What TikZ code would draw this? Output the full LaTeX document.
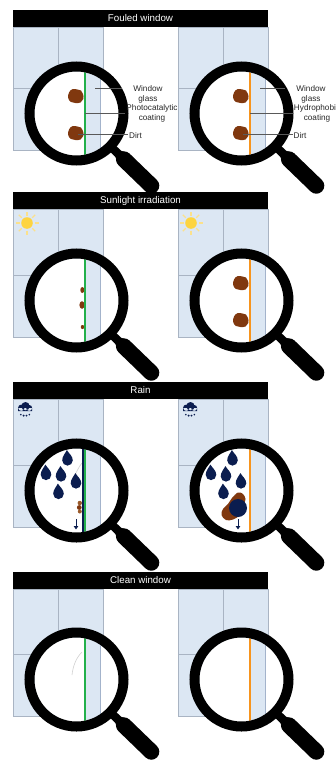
\documentclass[tikz,border=0pt]{standalone}
\usepackage{fontspec}
\setmainfont{Liberation Sans}
\usetikzlibrary{arrows.meta}

\definecolor{pane}{HTML}{DCE7F3}
\definecolor{paneline}{HTML}{A9B4C3}
\definecolor{glassline}{HTML}{A3B3CB}
\definecolor{coatgreen}{HTML}{22B04B}
\definecolor{coatorange}{HTML}{F7941D}
\definecolor{dirt}{HTML}{80380F}
\definecolor{dirtlight}{HTML}{9A5A2A}
\definecolor{navy}{HTML}{0B1D4F}
\definecolor{suncore}{HTML}{FDD43F}
\definecolor{sunray}{HTML}{FBE18C}

\tikzset{
  paneedge/.style={draw=paneline, line width=0.8pt},
  glassedge/.style={draw=glassline, line width=1pt},
  coatline/.style={line width=2.4pt},
  ring/.style={draw=black, line width=10pt},
  titlebar/.style={fill=black, text=white, minimum width=255pt, minimum height=17pt,
    inner sep=0pt, font=\fontsize{9.75}{11}\selectfont},
  lbl/.style={font=\fontsize{8.2}{10}\selectfont, align=center, inner sep=1pt, text=black!85},
  leader/.style={draw=black!65, line width=0.5pt},
  faint/.style={draw=black!18, line width=0.6pt},
  dirtblob/.pic={
    \fill[dirt] plot[smooth cycle, tension=0.7] coordinates
      {(7.5,-2) (7.8,3) (5,6.5) (0,7) (-4.5,6) (-7.3,2) (-6.5,-3.5) (-3,-6.8) (2,-6.5) (5.5,-5.5)};
  },
  smear/.pic={
    \fill[dirt] plot[smooth cycle, tension=0.6] coordinates
      {(0,-15.5) (5,-14) (7.5,-9) (6,-4) (3,6) (-5,11.5) (-12,12) (-16.5,7) (-15,1) (-10,-4) (-6,-10)};
  },
  raindrop/.pic={
    \fill[navy] (-0.6,-10) .. controls (1,-6.8) and (5.3,-4) .. (5.3,0.3)
      arc[start angle=0, end angle=180, radius=5.3]
      .. controls (-5.3,-4) and (-2,-6.8) .. (-0.6,-10) -- cycle;
  },
  sunicon/.pic={
    \foreach \a in {0,45,...,315} \draw[sunray, line width=1.2pt] (\a:7.5) -- (\a:11.5);
    \fill[suncore] (0,0) circle (5.8);
  },
  raincloud/.pic={
    \fill[navy] (-3.7,-3.2) circle (3.2) (0.5,-4.8) circle (4.2) (4.2,-3) circle (3)
      (-6.9,-3.2) rectangle (7.2,0);
    \fill[navy] (-4.2,3.6) circle (0.9) (-1.4,4.6) circle (1.1) (1.5,4.6) circle (1.1) (4.3,3.6) circle (0.9);
  },
  droparrow/.style={draw=navy, line width=1pt, -{Triangle[length=3.5pt,width=4.5pt]}}
}

% window with four panes; uses \WinL, \WinT, \WinB
\newcommand\panewindow{%
  \fill[pane] (\WinL,\WinT+17) rectangle (\WinL+90,\WinB);
  \draw[paneedge] (\WinL,\WinT+17) rectangle (\WinL+90,\WinB)
    (\WinL+45,\WinT+17) -- (\WinL+45,\WinB) (\WinL,\WinB-62) -- (\WinL+90,\WinB-62);
}

% magnifying glass over the pane edge: #1 name, #2 coating colour, #3 contents
\newcommand\lens[3]{%
  \coordinate (#1) at (\WinL+63.5,\WinB-36.5);
  \begin{scope}
    \clip (#1) circle (42);
    \fill[white] (#1) circle (42);
    \fill[pane] (\WinL+72,\WinB-90) rectangle (\WinL+87,\WinB+10);
    \draw[glassedge] (\WinL+87,\WinB-90) -- (\WinL+87,\WinB+10);
    #3
    \draw[coatline, draw=#2] (\WinL+72,\WinB-90) -- (\WinL+72,\WinB+10);
  \end{scope}
  \draw[ring] (#1) circle (47);
  \begin{scope}[shift={(#1)}, rotate=-44]
    \fill (44,-4.2) -- (58,-4.2) -- (66,-8) -- (66,8) -- (58,4.2) -- (44,4.2) -- cycle;
    \draw[line width=16pt, line cap=round] (66,0) -- (104,0);
  \end{scope}
}

\newcommand\drops{%
  \pic at (\WinL+54.5,\WinB-67) {raindrop};
  \pic at (\WinL+33,\WinB-52.5) {raindrop};
  \pic at (\WinL+48,\WinB-51) {raindrop};
  \pic at (\WinL+63,\WinB-44) {raindrop};
  \pic at (\WinL+45.5,\WinB-33.5) {raindrop};
}

\begin{document}
\begin{tikzpicture}[x=1pt,y=-1pt]
\useasboundingbox (0,0) rectangle (335,760);

% ---------- Fouled window ----------
\def\WinT{10}\def\WinB{150}
\def\WinL{13}\panewindow
\def\WinL{178}\panewindow
\node[titlebar] (title1) at (140.5,\WinT+8.5) {Fouled window};
\def\WinL{13}
\lens{lensA}{coatgreen}{%
  \pic at (\WinL+62.5,\WinB-54) {dirtblob};
  \pic at (\WinL+62.5,\WinB-17) {dirtblob};
}
\coordinate (glassA) at (\WinL+82,\WinB-62);
\coordinate (coatA) at (\WinL+72,\WinB-37);
\coordinate (dirtA) at (\WinL+65,\WinB-16);
\node[lbl] (glassLblA) at (\WinL+135,\WinB-56) {Window\\glass};
\node[lbl] (coatLblA) at (\WinL+139,\WinB-37) {Photocatalytic\\coating};
\node[lbl, anchor=west] (dirtLblA) at (\WinL+115,\WinB-14) {Dirt};
\draw[leader, shorten >=10pt] (glassA) -- (glassA -| glassLblA.west);
\draw[leader] (coatA) -- (coatA -| coatLblA.west);
\draw[leader] (dirtA) -- (dirtA -| dirtLblA.west);

\def\WinL{178}
\lens{lensB}{coatorange}{%
  \pic at (\WinL+62.5,\WinB-54) {dirtblob};
  \pic at (\WinL+62.5,\WinB-17) {dirtblob};
}
\coordinate (glassB) at (\WinL+82,\WinB-62);
\coordinate (coatB) at (\WinL+72,\WinB-37);
\coordinate (dirtB) at (\WinL+65,\WinB-16);
\node[lbl] (glassLblB) at (\WinL+133,\WinB-56) {Window\\glass};
\node[lbl] (coatLblB) at (\WinL+139,\WinB-37) {Hydrophobic\\coating};
\node[lbl, anchor=west] (dirtLblB) at (\WinL+114.5,\WinB-14) {Dirt};
\draw[leader, shorten >=10pt] (glassB) -- (glassB -| glassLblB.west);
\draw[leader] (coatB) -- (coatB -| coatLblB.west);
\draw[leader] (dirtB) -- (dirtB -| dirtLblB.west);

% ---------- Sunlight irradiation ----------
\def\WinT{192}\def\WinB{337}
\def\WinL{13}\panewindow
\def\WinL{178}\panewindow
\node[titlebar] (title2) at (140.5,\WinT+8.5) {Sunlight irradiation};
\def\WinL{13}
\pic at (\WinL+14,\WinT+31) {sunicon};
\lens{lensC}{coatgreen}{%
  \fill[dirt] (\WinL+69.3,\WinB-47) ellipse [x radius=2, y radius=3];
  \fill[dirt] (\WinL+69,\WinB-32) ellipse [x radius=2.6, y radius=3.8];
  \fill[dirt] (\WinL+69.5,\WinB-10) ellipse [x radius=1.7, y radius=2];
}
\def\WinL{178}
\pic at (\WinL+13,\WinT+31) {sunicon};
\lens{lensD}{coatorange}{%
  \pic at (\WinL+62.5,\WinB-54) {dirtblob};
  \pic at (\WinL+62.5,\WinB-17) {dirtblob};
}

% ---------- Rain ----------
\def\WinT{382}\def\WinB{527}
\def\WinL{13}\panewindow
\def\WinL{178}\panewindow
\node[titlebar] (title3) at (140.5,\WinT+8.5) {Rain};
\def\WinL{13}
\pic at (\WinL+12,\WinT+29) {raincloud};
\lens{lensE}{coatgreen}{%
  \draw[faint] (\WinL+69,\WinB-64) .. controls (\WinL+66,\WinB-60) .. (\WinL+62,\WinB-52);
  \drops
  \fill[dirtlight] (\WinL+66.8,\WinB-24) circle (2.2);
  \fill[dirt] (\WinL+66.3,\WinB-19.5) circle (2.4);
  \fill[dirtlight] (\WinL+66.8,\WinB-15.5) circle (2);
  \draw[navy, line width=2pt] (\WinL+69.5,\WinB-90) -- (\WinL+69.5,\WinB+10);
  \coordinate (flowA0) at (\WinL+63,\WinB-8);
  \coordinate (flowA1) at (\WinL+63,\WinB+2.5);
  \draw[droparrow] (flowA0) -- (flowA1);
}
\def\WinL{178}
\pic at (\WinL+12,\WinT+29) {raincloud};
\lens{lensF}{coatorange}{%
  \drops
  \pic at (\WinL+60,\WinB-19) {smear};
  \fill[navy] (\WinL+60,\WinB-19) circle (9);
  \coordinate (flowB0) at (\WinL+60,\WinB-8);
  \coordinate (flowB1) at (\WinL+60,\WinB+2.5);
  \draw[droparrow] (flowB0) -- (flowB1);
}

% ---------- Clean window ----------
\def\WinT{572}\def\WinB{716}
\def\WinL{13}\panewindow
\def\WinL{178}\panewindow
\node[titlebar] (title4) at (140.5,\WinT+8.5) {Clean window};
\def\WinL{13}
\lens{lensG}{coatgreen}{%
  \draw[faint] (\WinL+69,\WinB-64) .. controls (\WinL+63,\WinB-58) and (\WinL+60,\WinB-50) .. (\WinL+59,\WinB-41);
}
\def\WinL{178}
\lens{lensH}{coatorange}{}

\end{tikzpicture}
\end{document}
